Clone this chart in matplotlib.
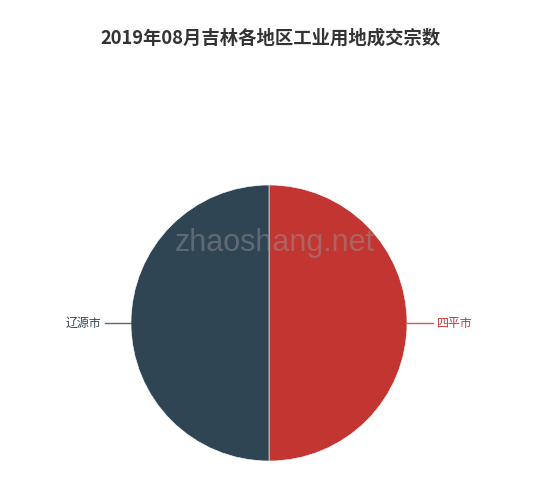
import matplotlib
matplotlib.use('Agg')
import numpy as np
import matplotlib.pyplot as plt

plt.rcParams['font.family'] = ['Noto Sans CJK SC', 'DejaVu Sans']

# data
title = '2019年08月吉林各地区工业用地成交宗数'
cities = ['四平市', '辽源市']
counts = [1, 1]
colors = ['#c23531', '#2f4554']

W, H = 550, 490
fig = plt.figure(figsize=(W / 100, H / 100), dpi=100)
ax = fig.add_axes([0, 0, 1, 1])

cx, cy, r = 269, H - 323, 138
wedges, _ = ax.pie(counts, colors=colors, startangle=90, counterclock=False,
                   center=(cx, cy), radius=r, frame=True,
                   wedgeprops=dict(edgecolor='white', linewidth=0.4))
ax.set_xlim(0, W)
ax.set_ylim(0, H)
ax.set_aspect('equal')
ax.axis('off')

# label lines
for w, name, c in zip(wedges, cities, colors):
    ang = np.deg2rad((w.theta1 + w.theta2) / 2)
    dx, dy = np.cos(ang), np.sin(ang)
    x0, y0 = cx + r * dx, cy + r * dy
    x1, y1 = cx + (r + 26) * dx, cy + (r + 26) * dy
    ax.plot([x0, x1], [y0, y1], color=c, lw=1, alpha=0.8)
    ha = 'left' if dx >= 0 else 'right'
    ax.text(x1 + (4 if dx >= 0 else -4), y1, name, color=c, fontsize=8.6,
            ha=ha, va='center')

# watermark
ax.text(275, H - 243, 'zhaoshang.net', fontsize=22, color='#999999', alpha=0.45,
        ha='center', va='center', family=['Liberation Sans', 'DejaVu Sans'])

fig.text(271 / W, 1 - 38 / H, title, fontsize=13.2, fontweight='bold', color='#333333',
         ha='center', va='center')

fig.savefig('out.png', dpi=100)
